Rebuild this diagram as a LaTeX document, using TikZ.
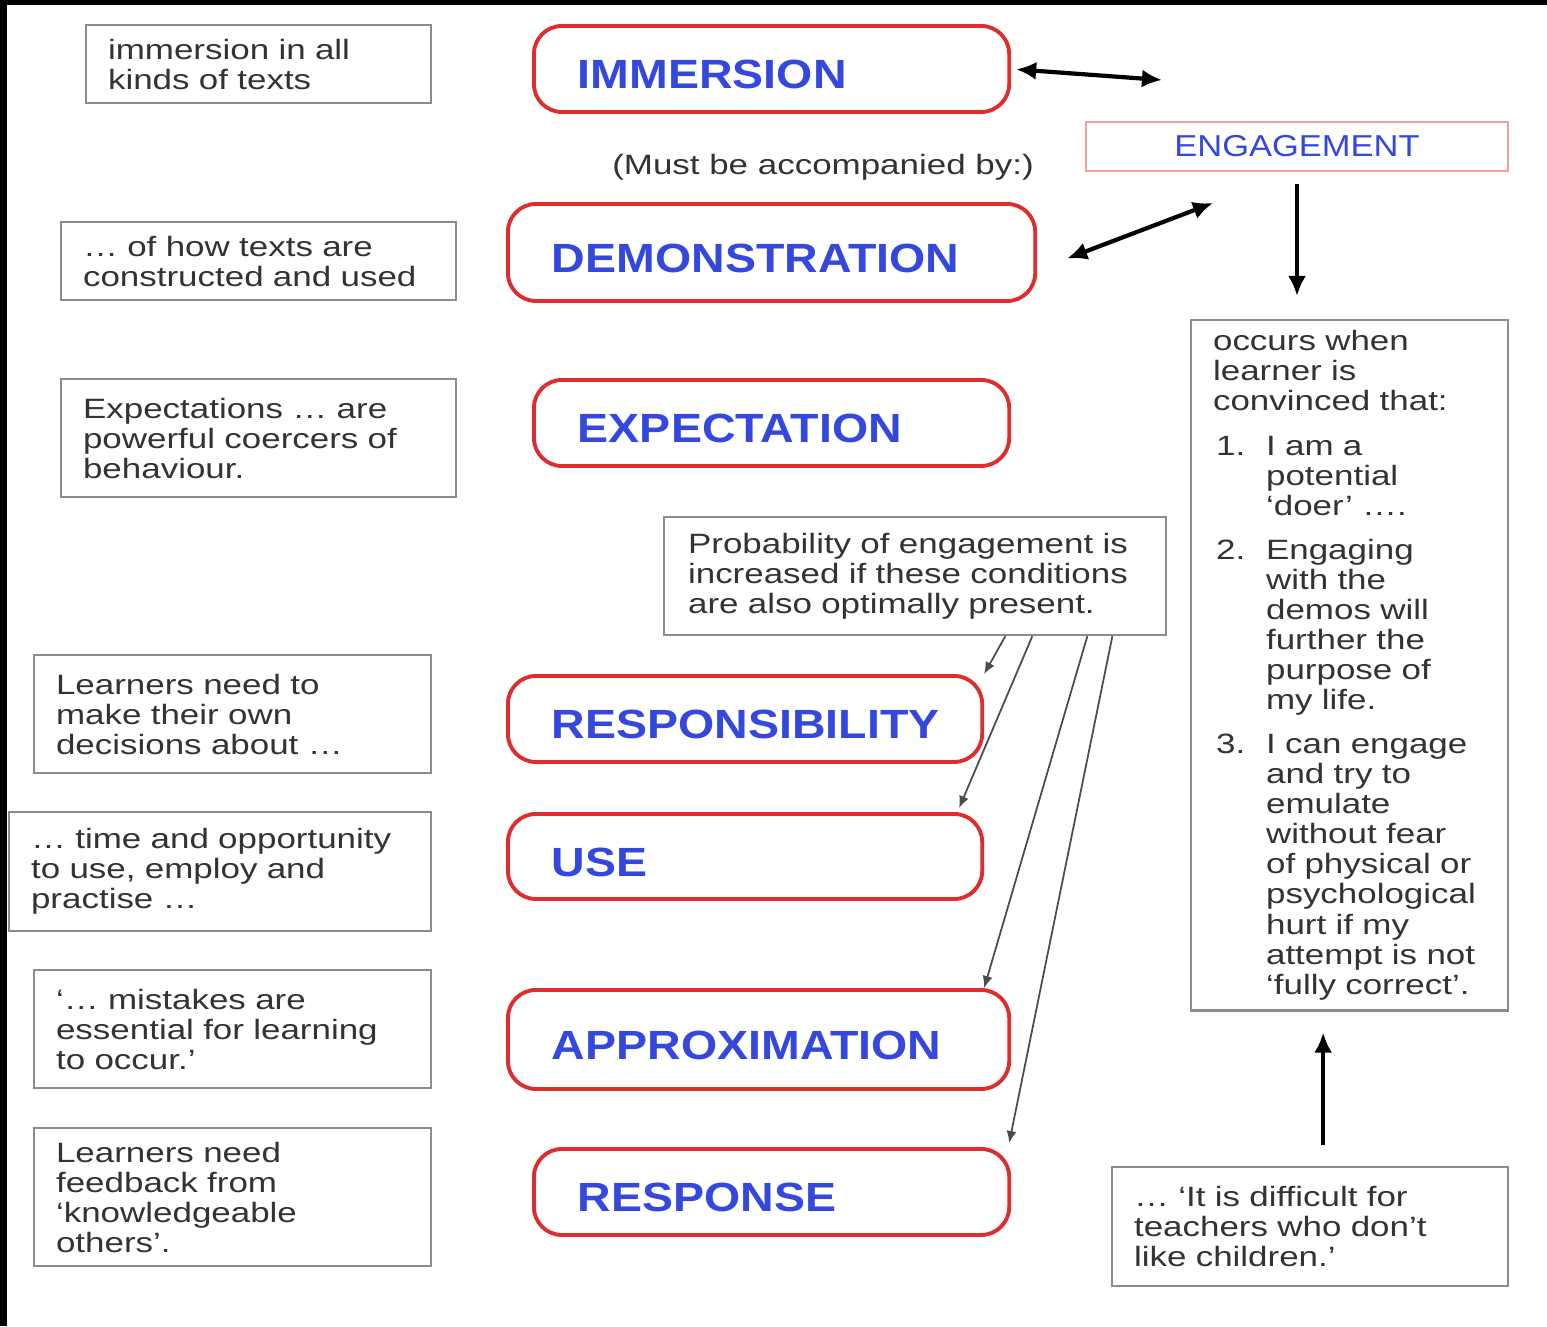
\documentclass[tikz,border=0pt]{standalone}
\usepackage{fontspec}
\newfontfamily\notefont[FakeStretch=1.25]{Liberation Sans}
\newfontfamily\condfont[FakeStretch=1.14]{Liberation Sans}
\usetikzlibrary{arrows.meta}
\definecolor{condred}{RGB}{222,45,45}
\definecolor{condblue}{RGB}{52,72,222}
\newcommand{\engind}{\hspace*{0.53cm}}
\newcommand{\engnum}[1]{\makebox[0.53cm][l]{\hspace{0.03cm}#1}}

\begin{document}
\begin{tikzpicture}[x=0.01cm,y=-0.01cm,
	note/.style={draw=black!45,line width=0.6pt,anchor=north west,align=left,inner xsep=0.22cm,inner ysep=0pt,text=black!80,font={\notefont\fontsize{7.95}{8.55}\selectfont}},
	cond/.style={draw=condred,line width=1.1pt,rounded corners=0.28cm,anchor=north west,align=left,inner xsep=0.44cm,inner ysep=0pt,text height=0.4cm,text depth=0pt,text=condblue,font={\condfont\bfseries\fontsize{11.6}{13}\selectfont}},
	bigarrow/.style={line width=1.2pt,{Latex[length=0.2cm,width=0.18cm]}-{Latex[length=0.2cm,width=0.18cm]}},
	onearrow/.style={line width=1.2pt,-{Latex[length=0.2cm,width=0.18cm]}},
	thinarrow/.style={draw=black!70,line width=0.5pt,-{Latex[length=0.12cm,width=0.1cm]}}]
	\useasboundingbox (0,0) rectangle (1547,1326);
	\fill[black] (0,0) rectangle (1547,1326);
	\fill[white] (7,5) rectangle (1547,1326);

	\node(n1) at (85,24)[note,text width=3.01cm,minimum height=0.78cm]{immersion in all\\kinds of texts};
	\node(n2) at (60,221)[note,text width=3.51cm,minimum height=0.78cm]{… of how texts are\\constructed and used};
	\node(n3) at (60,378)[note,text width=3.51cm,minimum height=1.18cm]{Expectations … are\\powerful coercers of\\behaviour.};
	\node(n4) at (33,654)[note,text width=3.53cm,minimum height=1.18cm]{Learners need to\\make their own\\decisions about …};
	\node(n5) at (8,811)[note,text width=3.78cm,minimum height=1.19cm]{… time and opportunity\\to use, employ and\\practise …};
	\node(n6) at (33,969)[note,text width=3.53cm,minimum height=1.18cm]{‘… mistakes are\\essential for learning\\to occur.’};
	\node(n7) at (33,1127)[note,text width=3.53cm,minimum height=1.38cm]{Learners need\\feedback from\\‘knowledgeable\\others’.};

	\node(immersion) at (532,24)[cond,text width=3.87cm,minimum height=0.86cm]{IMMERSION};
	\node(demonstration) at (506,202)[cond,text width=4.39cm,minimum height=0.97cm]{DEMONSTRATION};
	\node(expectation) at (532,378)[cond,text width=3.87cm,minimum height=0.86cm]{EXPECTATION};
	\node(responsibility) at (506,674)[cond,text width=3.86cm,minimum height=0.86cm]{RESPONSIBILITY};
	\node(use) at (506,812)[cond,text width=3.86cm,minimum height=0.85cm]{USE};
	\node(approximation) at (506,988)[cond,text width=4.13cm,minimum height=0.99cm]{APPROXIMATION};
	\node(response) at (532,1147)[cond,text width=3.87cm,minimum height=0.86cm]{RESPONSE};

	\node(mustby) at (823,167)[text=black!80,font={\notefont\fontsize{7.95}{8.55}\selectfont}]{(Must be accompanied by:)};
	\node(engagement) at (1085,121)[anchor=north west,draw=condred!45,line width=0.5pt,inner sep=0pt,minimum width=4.22cm,minimum height=0.49cm,text=condblue,font={\condfont\fontsize{8.6}{9}\selectfont}]{ENGAGEMENT};

	\node(prob) at (663,516)[note,inner xsep=0.24cm,text width=4.54cm,minimum height=1.18cm]{Probability of engagement is\\increased if these conditions\\are also optimally present.};

	\node(occurs) at (1190,319)[note,text width=2.73cm,minimum height=6.9cm]{occurs when\\learner is\\convinced that:\\[0.14cm]
		\engnum{1.}I am a\\\engind potential\\\engind ‘doer’ ….\\[0.14cm]
		\engnum{2.}Engaging\\\engind with the\\\engind demos will\\\engind further the\\\engind purpose of\\\engind my life.\\[0.14cm]
		\engnum{3.}I can engage\\\engind and try to\\\engind emulate\\\engind without fear\\\engind of physical or\\\engind psychological\\\engind hurt if my\\\engind attempt is not\\\engind ‘fully correct’.};
	\node(difficult) at (1111,1166)[note,text width=3.52cm,minimum height=1.19cm]{… ‘It is difficult for\\teachers who don’t\\like children.’};

	\coordinate(engA) at (1162,80);
	\coordinate(engB) at (1213,203);
	\draw[bigarrow,shorten <=0.05cm] (immersion.east) -- (engA);
	\draw[bigarrow] ([xshift=0.3cm,yshift=-0.06cm]demonstration.east) -- (engB);
	\draw[onearrow,shorten <=0.12cm,shorten >=0.23cm] (engagement.south) -- (engagement.south |- occurs.north);
	\draw[onearrow,shorten <=0.21cm,shorten >=0.21cm] ([xshift=0.13cm]difficult.north) -- ([xshift=0.13cm]difficult.north |- occurs.south);

	\draw[thinarrow] ([xshift=-1.62cm]prob.south east) -- (responsibility.north east);
	\draw[thinarrow] ([xshift=-1.35cm]prob.south east) -- ([xshift=-0.25cm,yshift=0.04cm]use.north east);
	\draw[thinarrow] ([xshift=-0.8cm]prob.south east) -- ([xshift=-0.27cm]approximation.north east);
	\draw[thinarrow] ([xshift=-0.55cm]prob.south east) -- ([xshift=-0.02cm,yshift=0.04cm]response.north east);
\end{tikzpicture}
\end{document}
